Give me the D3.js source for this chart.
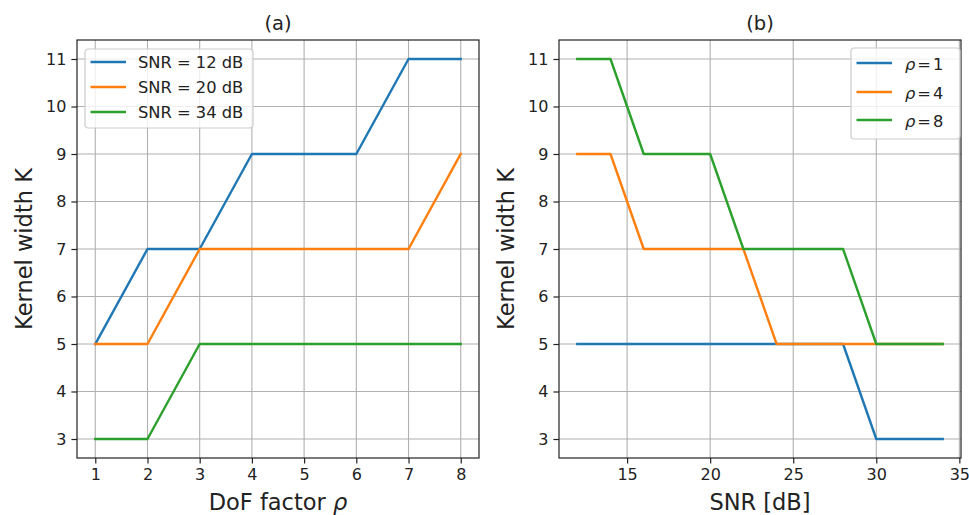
<!DOCTYPE html>
<html>
<head>
<meta charset="utf-8">
<script src="https://cdn.jsdelivr.net/npm/d3@7"></script>
<style>
  body { margin: 0; background: #fff; }
  svg { font-family: "DejaVu Sans", sans-serif; }
</style>
</head>
<body>
<div id="chart-area"></div>
<script>
// panel (a): kernel width vs DoF factor
var rhoVals = [1, 2, 3, 4, 5, 6, 7, 8];
var kSnr12 = [5, 7, 7, 9, 9, 9, 11, 11];
var kSnr20 = [5, 5, 7, 7, 7, 7, 7, 9];
var kSnr34 = [3, 3, 5, 5, 5, 5, 5, 5];
var leftLabels = ["SNR = 12 dB", "SNR = 20 dB", "SNR = 34 dB"];

// panel (b): kernel width vs SNR
var snrVals = [12, 14, 16, 18, 20, 22, 24, 26, 28, 30, 32, 34];
var kRho1 = [5, 5, 5, 5, 5, 5, 5, 5, 5, 3, 3, 3];
var kRho4 = [9, 9, 7, 7, 7, 7, 5, 5, 5, 5, 5, 5];
var kRho8 = [11, 11, 9, 9, 9, 7, 7, 7, 7, 5, 5, 5];
var rightLabels = ["1", "4", "8"];

var yTicks = [3, 4, 5, 6, 7, 8, 9, 10, 11];
var xTicksA = [1, 2, 3, 4, 5, 6, 7, 8];
var xTicksB = [15, 20, 25, 30, 35];

var colors = ["#1f77b4", "#ff7f0e", "#2ca02c"];

var svg = d3.select("#chart-area")
  .append("svg")
  .attr("width", 969)
  .attr("height", 515);

var plotTop = 40, plotBottom = 458;

var y = d3.scaleLinear().domain([2.6, 11.4]).range([plotBottom, plotTop]);

function drawPanel(left, right, x, xTicks, xs, series, title, xlabel) {
  var g = svg.append("g");

  // grid
  g.selectAll(".gx").data(xTicks).enter().append("line")
    .attr("x1", d => x(d)).attr("x2", d => x(d))
    .attr("y1", plotTop).attr("y2", plotBottom)
    .attr("stroke", "#b0b0b0").attr("stroke-width", 1.1);
  g.selectAll(".gy").data(yTicks).enter().append("line")
    .attr("x1", left).attr("x2", right)
    .attr("y1", d => y(d)).attr("y2", d => y(d))
    .attr("stroke", "#b0b0b0").attr("stroke-width", 1.1);

  // lines
  var line = d3.line()
    .x((d, i) => x(xs[i]))
    .y(d => y(d));
  series.forEach(function(s, i) {
    g.append("path")
      .attr("d", line(s))
      .attr("fill", "none")
      .attr("stroke", colors[i])
      .attr("stroke-width", 2.4)
      .attr("stroke-linejoin", "round")
      .attr("stroke-linecap", "square");
  });

  // axes
  var xAxis = g.append("g")
    .attr("transform", "translate(0," + plotBottom + ")")
    .call(d3.axisBottom(x).tickValues(xTicks).tickSize(5.6).tickPadding(5).tickFormat(d3.format("d")));
  var yAxis = g.append("g")
    .attr("transform", "translate(" + left + ",0)")
    .call(d3.axisLeft(y).tickValues(yTicks).tickSize(5.6).tickPadding(5).tickFormat(d3.format("d")));
  [xAxis, yAxis].forEach(function(a) {
    a.select(".domain").remove();
    a.selectAll("line").attr("stroke", "#222").attr("stroke-width", 1.2);
    a.selectAll("text")
      .attr("font-family", "DejaVu Sans")
      .attr("font-size", "16px")
      .attr("fill", "#222");
  });

  // frame
  g.append("rect")
    .attr("x", left).attr("y", plotTop)
    .attr("width", right - left).attr("height", plotBottom - plotTop)
    .attr("fill", "none").attr("stroke", "#222").attr("stroke-width", 1.2);

  // title
  g.append("text")
    .attr("x", (left + right) / 2).attr("y", 30)
    .attr("text-anchor", "middle")
    .attr("font-size", "19.5px")
    .attr("fill", "#222")
    .text(title);

  // x label
  var xl = g.append("text")
    .attr("x", (left + right) / 2).attr("y", 510)
    .attr("text-anchor", "middle")
    .attr("font-size", "22.5px")
    .attr("fill", "#222");
  xlabel(xl);

  // y label
  g.append("text")
    .attr("transform", "translate(" + (left - 45) + "," + ((plotTop + plotBottom) / 2) + ") rotate(-90)")
    .attr("text-anchor", "middle")
    .attr("font-size", "22.5px")
    .attr("fill", "#222")
    .text("Kernel width K");

  return g;
}

function drawLegend(g, bx, by, bw, bh, rowYs, labelFn) {
  g.append("rect")
    .attr("x", bx).attr("y", by)
    .attr("width", bw).attr("height", bh)
    .attr("rx", 3.5)
    .attr("fill", "#fff").attr("fill-opacity", 0.8)
    .attr("stroke", "#cccccc").attr("stroke-width", 1.2);
  rowYs.forEach(function(ry, i) {
    g.append("line")
      .attr("x1", bx + 5.5).attr("x2", bx + 41)
      .attr("y1", ry).attr("y2", ry)
      .attr("stroke", colors[i]).attr("stroke-width", 2.4);
    labelFn(g, i, ry);
  });
}

// panel (a)
var xA = d3.scaleLinear().domain([0.65, 8.35]).range([77, 479]);
var gA = drawPanel(77, 479, xA, xTicksA, rhoVals, [kSnr12, kSnr20, kSnr34], "(a)", function(t) {
  t.append("tspan").text("DoF factor ");
  t.append("tspan").attr("font-style", "italic").text("ρ");
});
drawLegend(gA, 85, 49, 168, 79, [62, 87, 112], function(g, i, ry) {
  g.append("text")
    .attr("x", 138).attr("y", ry + 6)
    .attr("font-size", "16.3px")
    .attr("fill", "#222")
    .text(leftLabels[i]);
});

// panel (b)
var xB = d3.scaleLinear().domain([10.9, 35.1]).range([559, 961]);
var gB = drawPanel(559, 961, xB, xTicksB, snrVals, [kRho1, kRho4, kRho8], "(b)", function(t) {
  t.text("SNR [dB]");
});
drawLegend(gB, 851, 48, 109, 91, [63, 92, 120], function(g, i, ry) {
  var t = g.append("text")
    .attr("x", 905).attr("y", ry + 7)
    .attr("font-size", "16.3px")
    .attr("fill", "#222");
  t.append("tspan").attr("font-style", "italic").text("ρ");
  t.append("tspan").attr("dx", 2).text("=");
  t.append("tspan").attr("dx", 2).text(rightLabels[i]);
});
</script>
</body>
</html>
